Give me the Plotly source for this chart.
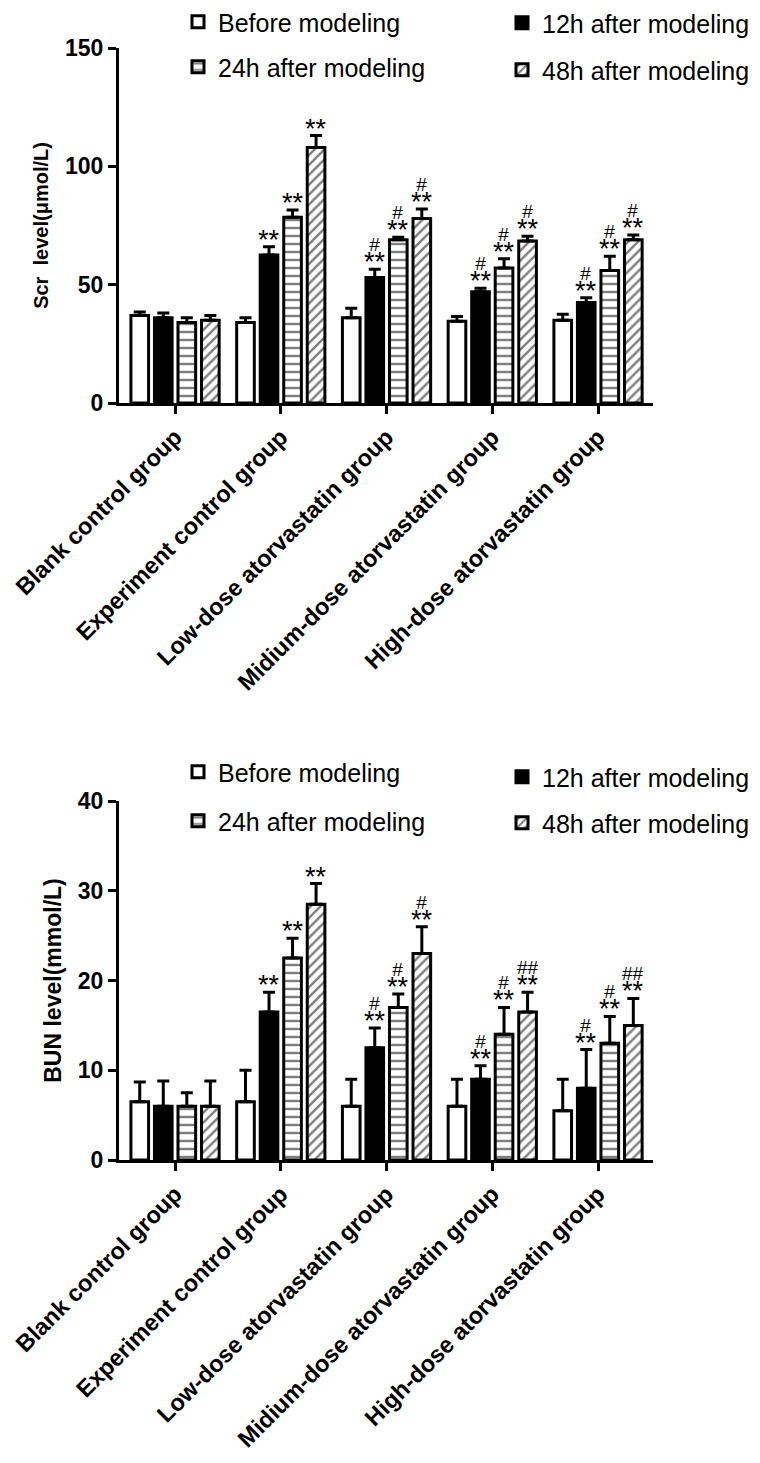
import plotly.graph_objects as go

categories = ["Blank control group", "Experiment control group", "Low-dose atorvastatin group",
              "Midium-dose atorvastatin group", "High-dose atorvastatin group"]
series_names = ["Before modeling", "12h after modeling", "24h after modeling", "48h after modeling"]

# Scr (umol/L)
scr_before = [37, 34, 36, 34.5, 35]
scr_12h = [36, 62.5, 53, 47, 42.5]
scr_24h = [34, 78.5, 69, 57, 56]
scr_48h = [35, 108, 78, 68.5, 69]
scr_before_err = [1.5, 2, 4, 2, 2.5]
scr_12h_err = [2, 3.5, 3.5, 1.5, 2]
scr_24h_err = [2, 3, 1, 4, 6]
scr_48h_err = [2, 5, 4, 2, 2]
scr_stars = [["", "", "", "", ""], ["", "**", "**", "**", "**"], ["", "**", "**", "**", "**"], ["", "**", "**", "**", "**"]]
scr_hash = [["", "", "", "", ""], ["", "", "#", "#", "#"], ["", "", "#", "#", "#"], ["", "", "#", "#", "#"]]

# BUN (mmol/L)
bun_before = [6.5, 6.5, 6, 6, 5.5]
bun_12h = [6, 16.5, 12.5, 9, 8]
bun_24h = [6, 22.5, 17, 14, 13]
bun_48h = [6, 28.5, 23, 16.5, 15]
bun_before_err = [2.2, 3.5, 3, 3, 3.5]
bun_12h_err = [2.8, 2.2, 2.2, 1.5, 4.3]
bun_24h_err = [1.5, 2.2, 1.5, 3, 3]
bun_48h_err = [2.8, 2.3, 3, 2.2, 3]
bun_stars = [["", "", "", "", ""], ["", "**", "**", "**", "**"], ["", "**", "**", "**", "**"], ["", "**", "**", "**", "**"]]
bun_hash = [["", "", "", "", ""], ["", "", "#", "#", "#"], ["", "", "#", "#", "#"], ["", "", "#", "##", "##"]]

y_ticks_scr = [0, 50, 100, 150]
y_ticks_bun = [0, 10, 20, 30, 40]

FONT = "Liberation Sans"
BARGAP = 0.11
BARGROUPGAP = 0.25

styles = [
    dict(color="white"),
    dict(color="black"),
    dict(color="white", pattern=dict(shape="-", fgcolor="black", bgcolor="white", size=8, solidity=0.3)),
    dict(color="white", pattern=dict(shape="/", fgcolor="black", bgcolor="white", size=7, solidity=0.35)),
]

fig = go.Figure()

def add_chart(vals, errs, stars, hashes, xa, ya, legends):
    for k, (name, v, e) in enumerate(zip(series_names, vals, errs)):
        st = styles[k]
        marker = dict(color=st["color"], line=dict(color="black", width=3))
        if "pattern" in st:
            marker["pattern"] = st["pattern"]
        fig.add_trace(go.Bar(
            x=categories, y=v, name=name, marker=marker, xaxis=xa, yaxis=ya,
            legend=legends[k], showlegend=True,
            error_y=dict(type="data", array=e, arrayminus=[0] * len(e), symmetric=False,
                         thickness=3, width=6, color="black"),
        ))
        slot = (1 - BARGAP) / 4
        for i in range(len(categories)):
            xpos = i + (k - 1.5) * slot
            top = v[i] + e[i]
            if not stars[k][i] and not hashes[k][i]:
                continue
            if hashes[k][i]:
                text = (f"<span style='font-size:19px'>{hashes[k][i]}</span><br>"
                        f"<span style='font-size:27px'>{stars[k][i]}</span>")
                size = 15.5
            else:
                text = stars[k][i]
                size = 27
            fig.add_annotation(x=xpos, y=top, xref=xa, yref=ya, text=text, showarrow=False,
                               yanchor="bottom", yshift=-10,
                               font=dict(family=FONT, size=size, color="black"))

add_chart([scr_before, scr_12h, scr_24h, scr_48h],
          [scr_before_err, scr_12h_err, scr_24h_err, scr_48h_err],
          scr_stars, scr_hash, "x", "y", ["legend", "legend2", "legend3", "legend4"])
add_chart([bun_before, bun_12h, bun_24h, bun_48h],
          [bun_before_err, bun_12h_err, bun_24h_err, bun_48h_err],
          bun_stars, bun_hash, "x2", "y2", ["legend5", "legend6", "legend7", "legend8"])

W, H = 760, 1463
L, R, T, B = 119, 107, 48, 303
pw, ph = W - L - R, H - T - B

def px2paper(px, py):
    return (px - L) / pw, (H - B - py) / ph

xaxis_common = dict(
    type="category", range=[-0.53, 4.52], showline=True, linewidth=3, linecolor="black",
    ticks="outside", ticklen=8, tickwidth=3, tickcolor="black", tickangle=-45,
    tickfont=dict(family=FONT, size=23.5, color="black", weight="bold"),
    showgrid=False, zeroline=False, fixedrange=True,
)
yaxis_common = dict(
    showline=True, linewidth=3, linecolor="black", ticks="outside", ticklen=8, tickwidth=3,
    tickcolor="black", tickfont=dict(family=FONT, size=23, color="black", weight="bold"),
    showgrid=False, zeroline=False,
)

# text-start x, text-centre y of each legend entry (pixels)
legend_pos = [(218, 22), (542, 23), (218, 67), (542, 70), (218, 772), (542, 777), (218, 821), (542, 823)]
layout_legends = {}
for j, (lx, ly) in enumerate(legend_pos):
    key = "legend" if j == 0 else f"legend{j + 1}"
    xp, yp = px2paper(lx - 40, ly)
    layout_legends[key] = dict(x=xp, y=yp, xanchor="left", yanchor="middle", bgcolor="rgba(0,0,0,0)",
                               font=dict(family=FONT, size=25, color="black"), borderwidth=0)

top_bottom = (H - B - 403) / ph
bot_top = (H - B - 801) / ph

fig.update_layout(
    width=W, height=H, margin=dict(l=L, r=R, t=T, b=B, autoexpand=False),
    plot_bgcolor="white", paper_bgcolor="white", showlegend=True,
    barmode="group", bargap=BARGAP, bargroupgap=BARGROUPGAP,
    font=dict(family=FONT, color="black"),
    xaxis=dict(domain=[0, 1], anchor="y", **xaxis_common),
    yaxis=dict(domain=[top_bottom, 1], anchor="x", range=[0, 150], tickvals=y_ticks_scr,
               title=dict(text="Scr\u00a0 level(μmol/L)", standoff=12,
                          font=dict(family=FONT, size=20, weight="bold")),
               **yaxis_common),
    xaxis2=dict(domain=[0, 1], anchor="y2", **xaxis_common),
    yaxis2=dict(domain=[0, bot_top], anchor="x2", range=[0, 40], tickvals=y_ticks_bun,
                title=dict(text="BUN level(mmol/L)", standoff=10,
                           font=dict(family=FONT, size=23, weight="bold")),
                **yaxis_common),
    **layout_legends,
)

fig.write_html("out.html", config={"displayModeBar": False},
               post_script="document.body.style.margin='0';")
